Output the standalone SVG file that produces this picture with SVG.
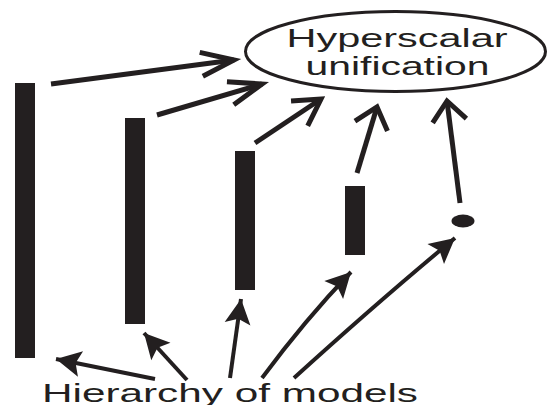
<svg xmlns="http://www.w3.org/2000/svg" width="549" height="405" viewBox="0 0 549 405">
<style>
.bar{fill:#231f20}
.txt{font-family:"Liberation Sans",Arial,sans-serif;fill:#231f20}
.up{stroke:#231f20;stroke-width:5;fill:none}
.dn{stroke:#231f20;stroke-width:4;fill:none}
.head{fill:none;stroke:#231f20;stroke-width:5;stroke-linejoin:miter;stroke-miterlimit:10}
</style>
<defs>
<marker id="openNarrow" markerUnits="userSpaceOnUse" viewBox="-40 -20 46 40" markerWidth="46" markerHeight="40" refX="0" refY="0" orient="auto" overflow="visible">
<path class="head" d="M-33,-12 L0,0 L-33,12"/>
</marker>
<marker id="openMid" markerUnits="userSpaceOnUse" viewBox="-40 -20 46 40" markerWidth="46" markerHeight="40" refX="0" refY="0" orient="auto" overflow="visible">
<path class="head" d="M-26,-15 L0,0 L-26,15"/>
</marker>
<marker id="openWide" markerUnits="userSpaceOnUse" viewBox="-40 -20 46 40" markerWidth="46" markerHeight="40" refX="0" refY="0" orient="auto" overflow="visible">
<path class="head" d="M-20,-17 L0,0 L-20,17"/>
</marker>
<marker id="solid" markerUnits="userSpaceOnUse" viewBox="-30 -20 36 40" markerWidth="36" markerHeight="40" refX="0" refY="0" orient="auto" overflow="visible">
<path d="M0,0 L-25,-13 L-20,0 L-25,13 Z" fill="#231f20"/>
</marker>
</defs>
<rect width="549" height="405" fill="#fff"/>
<g id="unification">
<ellipse cx="395.5" cy="51.5" rx="150" ry="40" fill="none" stroke="#231f20" stroke-width="3"/>
<text class="txt" x="286.5" y="47" font-size="25" textLength="221" lengthAdjust="spacingAndGlyphs">Hyperscalar</text>
<text class="txt" x="305.5" y="75" font-size="25" textLength="184" lengthAdjust="spacingAndGlyphs">unification</text>
</g>
<g id="model1"><rect class="bar" x="15" y="83" width="20" height="275"/></g>
<g id="model2"><rect class="bar" x="125" y="118" width="20" height="206"/></g>
<g id="model3"><rect class="bar" x="235" y="151" width="20" height="139"/></g>
<g id="model4"><rect class="bar" x="345" y="186" width="20" height="69"/></g>
<g id="model5"><ellipse class="bar" cx="463" cy="221" rx="11.5" ry="6.5"/></g>
<g id="hierarchy">
<text class="txt" x="42" y="402" font-size="26" textLength="376" lengthAdjust="spacingAndGlyphs">Hierarchy of models</text>
</g>
<g id="connectors">
<path class="up" d="M51,84 L234,60" marker-end="url(#openNarrow)"/>
<path class="up" d="M157,115 L262,84" marker-end="url(#openNarrow)"/>
<path class="up" d="M255,143 L321,99" marker-end="url(#openMid)"/>
<path class="up" d="M357,173 L377,107" marker-end="url(#openWide)"/>
<path class="up" d="M460,203 L447,101" marker-end="url(#openWide)"/>
<path class="dn" d="M155,379 L56,359" marker-end="url(#solid)"/>
<path class="dn" d="M187,380 L144,333" marker-end="url(#solid)"/>
<path class="dn" d="M230,378 L241,299" marker-end="url(#solid)"/>
<path class="dn" d="M262,378 Q305,320 351,272" marker-end="url(#solid)"/>
<path class="dn" d="M294,378 Q380,300 455,238" marker-end="url(#solid)"/>
</g>
</svg>
